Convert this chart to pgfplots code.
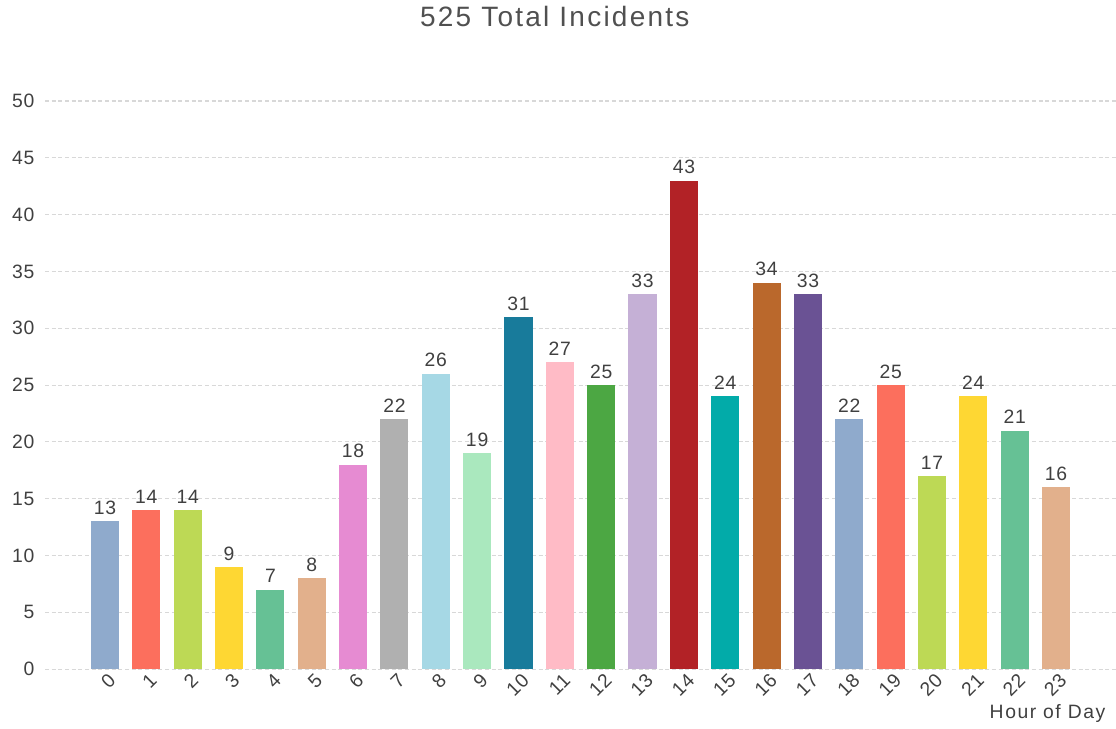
\documentclass[border=0pt]{standalone}
\usepackage{pgfplots}
\pgfplotsset{compat=1.18}
\usepackage{fontspec}
\setmainfont{Liberation Sans}
\definecolor{c0}{HTML}{8FAACC}
\definecolor{c1}{HTML}{FC6F5D}
\definecolor{c2}{HTML}{BDD955}
\definecolor{c3}{HTML}{FED733}
\definecolor{c4}{HTML}{66C195}
\definecolor{c5}{HTML}{E2B08C}
\definecolor{c6}{HTML}{E68BD2}
\definecolor{c7}{HTML}{B0B0B0}
\definecolor{c8}{HTML}{A6D8E5}
\definecolor{c9}{HTML}{AAE8BE}
\definecolor{c10}{HTML}{187B9B}
\definecolor{c11}{HTML}{FFBBC6}
\definecolor{c12}{HTML}{4CA743}
\definecolor{c13}{HTML}{C5B0D6}
\definecolor{c14}{HTML}{B22226}
\definecolor{c15}{HTML}{02ABA9}
\definecolor{c16}{HTML}{BA682C}
\definecolor{c17}{HTML}{6A5294}
\definecolor{txt}{HTML}{404040}
\definecolor{titlec}{HTML}{505050}
\definecolor{gridc}{HTML}{D8D8D8}
\begin{document}
\begin{tikzpicture}
\begin{axis}[
  name=ax,
  scale only axis,
  width=803pt, height=426pt,
  xmin=-1.45, xmax=24.45,
  ymin=0, ymax=50,
  ytick={0,5,...,50},
  xtick={0,...,23},
  axis line style={draw=none},
  major tick length=0pt,
  ymajorgrids,
  major grid style={gridc, line width=0.8pt, dash pattern=on 3pt off 2pt},
  ybar, bar shift=0pt, bar width=0.68,
  clip=false,
  tick label style={font=\fontsize{14.5}{17}\selectfont\addfontfeature{LetterSpace=4}, text=txt},
  /pgf/number format/assume math mode=true,
  yticklabel style={anchor=east, xshift=-4.5pt},
  xticklabel style={rotate=45, anchor=east, xshift=3pt, yshift=-8pt},
  nodes near coords,
  every node near coord/.append style={font=\fontsize{14.5}{17}\selectfont\addfontfeature{LetterSpace=4}, text=txt, yshift=1.5pt},
]
\addplot[fill=c0, draw=none] coordinates {(0,13)};
\addplot[fill=c1, draw=none] coordinates {(1,14)};
\addplot[fill=c2, draw=none] coordinates {(2,14)};
\addplot[fill=c3, draw=none] coordinates {(3,9)};
\addplot[fill=c4, draw=none] coordinates {(4,7)};
\addplot[fill=c5, draw=none] coordinates {(5,8)};
\addplot[fill=c6, draw=none] coordinates {(6,18)};
\addplot[fill=c7, draw=none] coordinates {(7,22)};
\addplot[fill=c8, draw=none] coordinates {(8,26)};
\addplot[fill=c9, draw=none] coordinates {(9,19)};
\addplot[fill=c10, draw=none] coordinates {(10,31)};
\addplot[fill=c11, draw=none] coordinates {(11,27)};
\addplot[fill=c12, draw=none] coordinates {(12,25)};
\addplot[fill=c13, draw=none] coordinates {(13,33)};
\addplot[fill=c14, draw=none] coordinates {(14,43)};
\addplot[fill=c15, draw=none] coordinates {(15,24)};
\addplot[fill=c16, draw=none] coordinates {(16,34)};
\addplot[fill=c17, draw=none] coordinates {(17,33)};
\addplot[fill=c0, draw=none] coordinates {(18,22)};
\addplot[fill=c1, draw=none] coordinates {(19,25)};
\addplot[fill=c2, draw=none] coordinates {(20,17)};
\addplot[fill=c3, draw=none] coordinates {(21,24)};
\addplot[fill=c4, draw=none] coordinates {(22,21)};
\addplot[fill=c5, draw=none] coordinates {(23,16)};
\node[anchor=center, font=\fontsize{21}{24}\selectfont\addfontfeature{LetterSpace=8}, text=titlec] at (rel axis cs:0.476,1.148) {525 Total Incidents};
\node[anchor=east, font=\fontsize{14.5}{17}\selectfont\addfontfeature{LetterSpace=8}, text=txt] at (rel axis cs:0.9944,-0.0775) {Hour of Day};
\end{axis}
\pgfresetboundingbox
\path ([shift={(-33.75pt,-44.25pt)}]ax.south west) rectangle ([shift={(0pt,75.75pt)}]ax.north east);
\end{tikzpicture}
\end{document}
